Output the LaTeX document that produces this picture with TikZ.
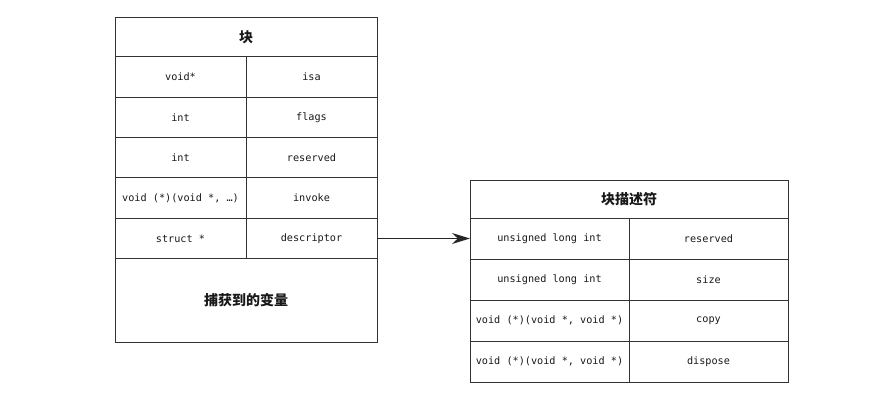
\documentclass[tikz,border=0pt]{standalone}
\usepackage{fontspec}
\setmonofont{DejaVu Sans Mono}
\newfontfamily\cjk{Noto Sans CJK SC}
\usetikzlibrary{positioning,arrows.meta}

\tikzset{
    cell/.style={draw=black!80, line width=0.8pt, rectangle, outer sep=0pt, inner sep=0pt, text=black!90, font=\ttfamily\fontsize{10.2}{12}\selectfont},
    headcell/.style={cell, font=\cjk\bfseries\fontsize{14}{16}\selectfont},
    lcell/.style={cell, minimum width=131pt, minimum height=40.4pt},
    rcell/.style={cell, minimum width=159pt, minimum height=41pt}
}

\begin{document}
\begin{tikzpicture}[x=1pt, y=-1pt]
    \useasboundingbox (0,0) rectangle (881,401);

    % block
    \node[headcell, minimum width=262pt, minimum height=39.7pt, anchor=north west] (blk) at (115,17) {块};
    \node[lcell, anchor=north west] (a1) at (blk.south west) {void*};
    \node[lcell] (a2) [below=0pt of a1] {int};
    \node[lcell] (a3) [below=0pt of a2] {int};
    \node[lcell] (a4) [below=0pt of a3] {void (*)(void *, …)};
    \node[lcell] (a5) [below=0pt of a4] {struct *};
    \node[lcell] (b1) [right=0pt of a1] {isa};
    \node[lcell] (b2) [right=0pt of a2] {flags};
    \node[lcell] (b3) [right=0pt of a3] {reserved};
    \node[lcell] (b4) [right=0pt of a4] {invoke};
    \node[lcell] (b5) [right=0pt of a5] {descriptor};
    \node[headcell, minimum width=262pt, minimum height=83.3pt, anchor=north west] (vars) at (a5.south west) {捕获到的变量};

    % descriptor
    \node[headcell, minimum width=318pt, minimum height=38pt, anchor=north west] (desc) at (470,180) {块描述符};
    \node[rcell, anchor=north west] (c1) at (desc.south west) {unsigned long int};
    \node[rcell] (c2) [below=0pt of c1] {unsigned long int};
    \node[rcell] (c3) [below=0pt of c2] {void (*)(void *, void *)};
    \node[rcell] (c4) [below=0pt of c3] {void (*)(void *, void *)};
    \node[rcell] (e1) [right=0pt of c1] {reserved};
    \node[rcell] (e2) [right=0pt of c2] {size};
    \node[rcell] (e3) [right=0pt of c3] {copy};
    \node[rcell] (e4) [right=0pt of c4] {dispose};

    \draw[black!85, line width=1.2pt, -{Stealth[length=18pt, width=11pt]}] (b5.east) -- (c1.west |- b5.east);
\end{tikzpicture}
\end{document}
